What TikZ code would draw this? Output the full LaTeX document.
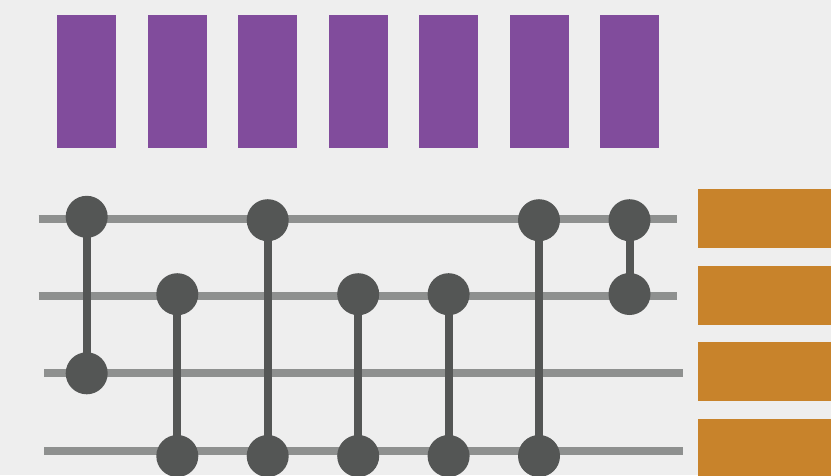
\documentclass[tikz,border=0pt]{standalone}
\definecolor{bgc}{HTML}{EEEEEE}
\definecolor{purp}{HTML}{814C9C}
\definecolor{oran}{HTML}{C8832B}
\definecolor{wire}{HTML}{8E908F}
\definecolor{dot}{HTML}{545655}
\tikzset{x=1pt,y=-1pt,
 qubit/.style={draw=none,fill=purp,minimum width=59pt,minimum height=133pt,inner sep=0,outer sep=0,anchor=north west},
 meter/.style={draw=none,fill=oran,minimum width=133pt,minimum height=59pt,inner sep=0,outer sep=0,anchor=north west},
 wireline/.style={draw=wire,line width=8pt},
 link/.style={draw=dot,line width=8pt},
 ctl/.style={circle,fill=dot,draw=none,minimum size=42pt,inner sep=0,outer sep=0}}
\begin{document}
\begin{tikzpicture}
\fill[bgc] (0,0) rectangle (831,475);
\useasboundingbox (0,0) rectangle (831,475);
\begin{scope}
\clip (0,0) rectangle (831,475);
\foreach \n/\x in {a/57,b/148,c/238,d/329,e/419,f/510,g/600}{\node[qubit] (q\n) at (\x,15) {};}
\foreach \n/\y in {a/189,b/266,c/342,d/419}{\node[meter] (m\n) at (698,\y) {};}
\coordinate (w1s) at (38.7,218.5); \coordinate (w1e) at (677.3,218.5);
\coordinate (w2s) at (38.7,296); \coordinate (w2e) at (677.3,296);
\coordinate (w3s) at (44,373.3); \coordinate (w3e) at (683,373.3);
\coordinate (w4s) at (44,450.7); \coordinate (w4e) at (683,450.7);
\foreach \i in {1,2,3,4}{\draw[wireline] (w\i s) -- (w\i e);}
\node[ctl] (a1) at (86.7,216.8) {}; \node[ctl] (a2) at (86.7,373.3) {};
\node[ctl] (b1) at (177.3,294.2) {}; \node[ctl] (b2) at (177.3,456) {};
\node[ctl] (c1) at (267.7,220.2) {}; \node[ctl] (c2) at (267.7,456) {};
\node[ctl] (d1) at (358.2,294.2) {}; \node[ctl] (d2) at (358.2,456) {};
\node[ctl] (e1) at (448.6,294.2) {}; \node[ctl] (e2) at (448.6,456) {};
\node[ctl] (f1) at (539,220.2) {}; \node[ctl] (f2) at (539,456) {};
\node[ctl] (g1) at (629.5,220.2) {}; \node[ctl] (g2) at (629.5,294) {};
\foreach \n in {a,b,c,d,e,f,g}{\draw[link] (\n1.center) -- (\n2.center);}
\end{scope}
\end{tikzpicture}
\end{document}
